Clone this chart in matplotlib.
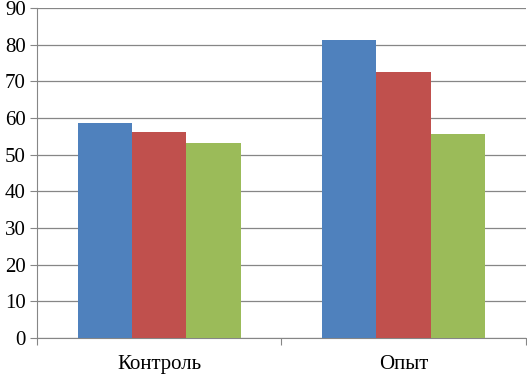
import numpy as np
import matplotlib.pyplot as plt

categories = ["Контроль", "Опыт"]
series_blue = [58.7, 81.3]
series_red = [56.2, 72.5]
series_green = [53.1, 55.6]

colors = ["#4F81BD", "#C0504D", "#9BBB59"]

plt.rcParams['font.family'] = 'serif'
plt.rcParams['font.serif'] = ['Liberation Serif', 'DejaVu Serif']

fig = plt.figure(figsize=(5.27, 3.74), dpi=100)
ax = fig.add_axes([37 / 527, 1 - 338 / 374, (525.7 - 37) / 527, (338 - 8) / 374])

x = np.arange(len(categories))
w = 1 / 4.5
for i, (vals, c) in enumerate(zip([series_blue, series_red, series_green], colors)):
    ax.bar(x + (i - 1) * w, vals, width=w, color=c, zorder=3)

ax.set_xlim(-0.5, len(categories) - 0.5)
ax.set_ylim(0, 90)
ax.set_yticks(np.arange(0, 91, 10))
ax.yaxis.grid(True, color="#868686", linewidth=0.9, zorder=0)

ax.set_xticks(np.arange(-0.5, len(categories)), minor=False)
ax.set_xticklabels([])
ax.set_xticks(x, minor=True)
ax.set_xticklabels(categories, minor=True)
ax.tick_params(axis='x', which='minor', length=0, labelsize=15, pad=12)
ax.tick_params(axis='x', which='major', length=5, color="#868686", direction='out')
ax.tick_params(axis='y', length=5, color="#868686", labelsize=15, pad=3)

for s in ["top", "right"]:
    ax.spines[s].set_visible(False)
for s in ["left", "bottom"]:
    ax.spines[s].set_color("#868686")

fig.savefig("out.png", dpi=100)
